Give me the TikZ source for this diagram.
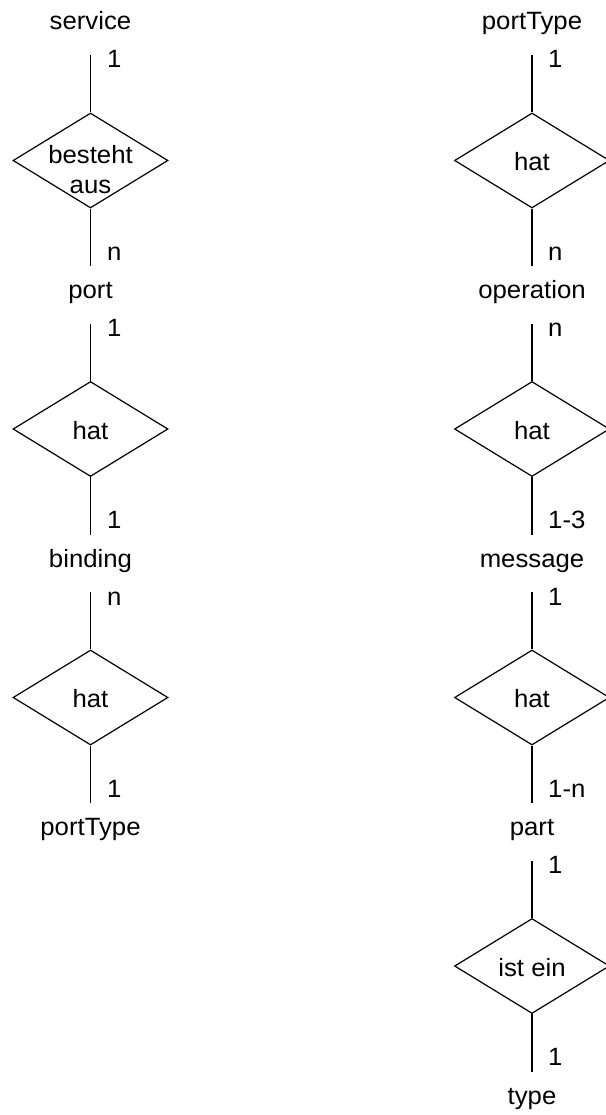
\documentclass[tikz,border=0pt]{standalone}
\usepackage{fontspec}
\setmainfont{Liberation Sans}[FakeStretch=1.03]
\usetikzlibrary{shapes.geometric}
\begin{document}
\begin{tikzpicture}[x=1pt,y=-1pt,
  rel/.style={draw, diamond, minimum width=155pt, minimum height=95pt,
              inner sep=0pt, line width=1.2pt},
  reltext/.style={inner sep=0pt, anchor=base, font=\fontsize{25}{30}\selectfont},
  ent/.style={inner sep=0pt, anchor=base, font=\fontsize{25}{30}\selectfont},
  card/.style={inner sep=0pt, anchor=base west, font=\fontsize{25}{30}\selectfont},
  link/.style={line width=1.2pt}]
\useasboundingbox (0,0) rectangle (605,1115);

% ---------------- left column: service -> port -> binding -> portType
\def\xl{90.5}
\node[ent] (service)  at (\xl,30)    {service};
\node[ent] (port)     at (\xl,298.5) {port};
\node[ent] (binding)  at (\xl,567)   {binding};
\node[ent] (ptL)      at (\xl,835.5) {portType};

\node[rel] (dL1) at (\xl,160.5) {};
\node[rel] (dL2) at (\xl,429)   {};
\node[rel] (dL3) at (\xl,697.5) {};

\node[reltext, anchor=north, align=center]
  (tL1) at (\xl,144.8) {besteht\\aus};
\node[reltext] (tL2) at ([yshift=-10pt]dL2.center) {hat};
\node[reltext] (tL3) at ([yshift=-10pt]dL3.center) {hat};

\coordinate (aL1) at (\xl,55);    \coordinate (bL1) at (\xl,266);
\coordinate (aL2) at (\xl,323.5); \coordinate (bL2) at (\xl,534.5);
\coordinate (aL3) at (\xl,592);   \coordinate (bL3) at (\xl,803);

\draw[link] (aL1) -- (dL1.north); \draw[link] (dL1.south) -- (bL1);
\draw[link] (aL2) -- (dL2.north); \draw[link] (dL2.south) -- (bL2);
\draw[link] (aL3) -- (dL3.north); \draw[link] (dL3.south) -- (bL3);

\node[card] (cL1a) at (107,68)    {1};
\node[card] (cL1b) at (107,260)   {n};
\node[card] (cL2a) at (107,336.5) {1};
\node[card] (cL2b) at (107,528.5) {1};
\node[card] (cL3a) at (107,605)   {n};
\node[card] (cL3b) at (107,797)   {1};

% ---------------- right column: portType -> operation -> message -> part -> type
\def\xr{532}
\node[ent] (ptR)       at (\xr,30)    {portType};
\node[ent] (operation) at (\xr,298.5) {operation};
\node[ent] (message)   at (\xr,567)   {message};
\node[ent] (part)      at (\xr,835.5) {part};
\node[ent] (type)      at (\xr,1104)  {type};

\node[rel] (dR1) at (\xr,160.5) {};
\node[rel] (dR2) at (\xr,429)   {};
\node[rel] (dR3) at (\xr,697.5) {};
\node[rel] (dR4) at (\xr,966)   {};

\node[reltext] (tR1) at ([yshift=-10pt]dR1.center) {hat};
\node[reltext] (tR2) at ([yshift=-10pt]dR2.center) {hat};
\node[reltext] (tR3) at ([yshift=-10pt]dR3.center) {hat};
\node[reltext] (tR4) at ([yshift=-10pt]dR4.center) {ist ein};

\coordinate (aR1) at (\xr,55);    \coordinate (bR1) at (\xr,266);
\coordinate (aR2) at (\xr,323.5); \coordinate (bR2) at (\xr,534.5);
\coordinate (aR3) at (\xr,592);   \coordinate (bR3) at (\xr,803);
\coordinate (aR4) at (\xr,860.5); \coordinate (bR4) at (\xr,1071.5);

\draw[link] (aR1) -- (dR1.north); \draw[link] (dR1.south) -- (bR1);
\draw[link] (aR2) -- (dR2.north); \draw[link] (dR2.south) -- (bR2);
\draw[link] (aR3) -- (dR3.north); \draw[link] (dR3.south) -- (bR3);
\draw[link] (aR4) -- (dR4.north); \draw[link] (dR4.south) -- (bR4);

\node[card] (cR1a) at (548,68)     {1};
\node[card] (cR1b) at (548,260)    {n};
\node[card] (cR2a) at (548,336.5)  {n};
\node[card] (cR2b) at (548,528.5)  {1-3};
\node[card] (cR3a) at (548,605)    {1};
\node[card] (cR3b) at (548,797)    {1-n};
\node[card] (cR4a) at (548,873.5)  {1};
\node[card] (cR4b) at (548,1065.5) {1};
\end{tikzpicture}
\end{document}
